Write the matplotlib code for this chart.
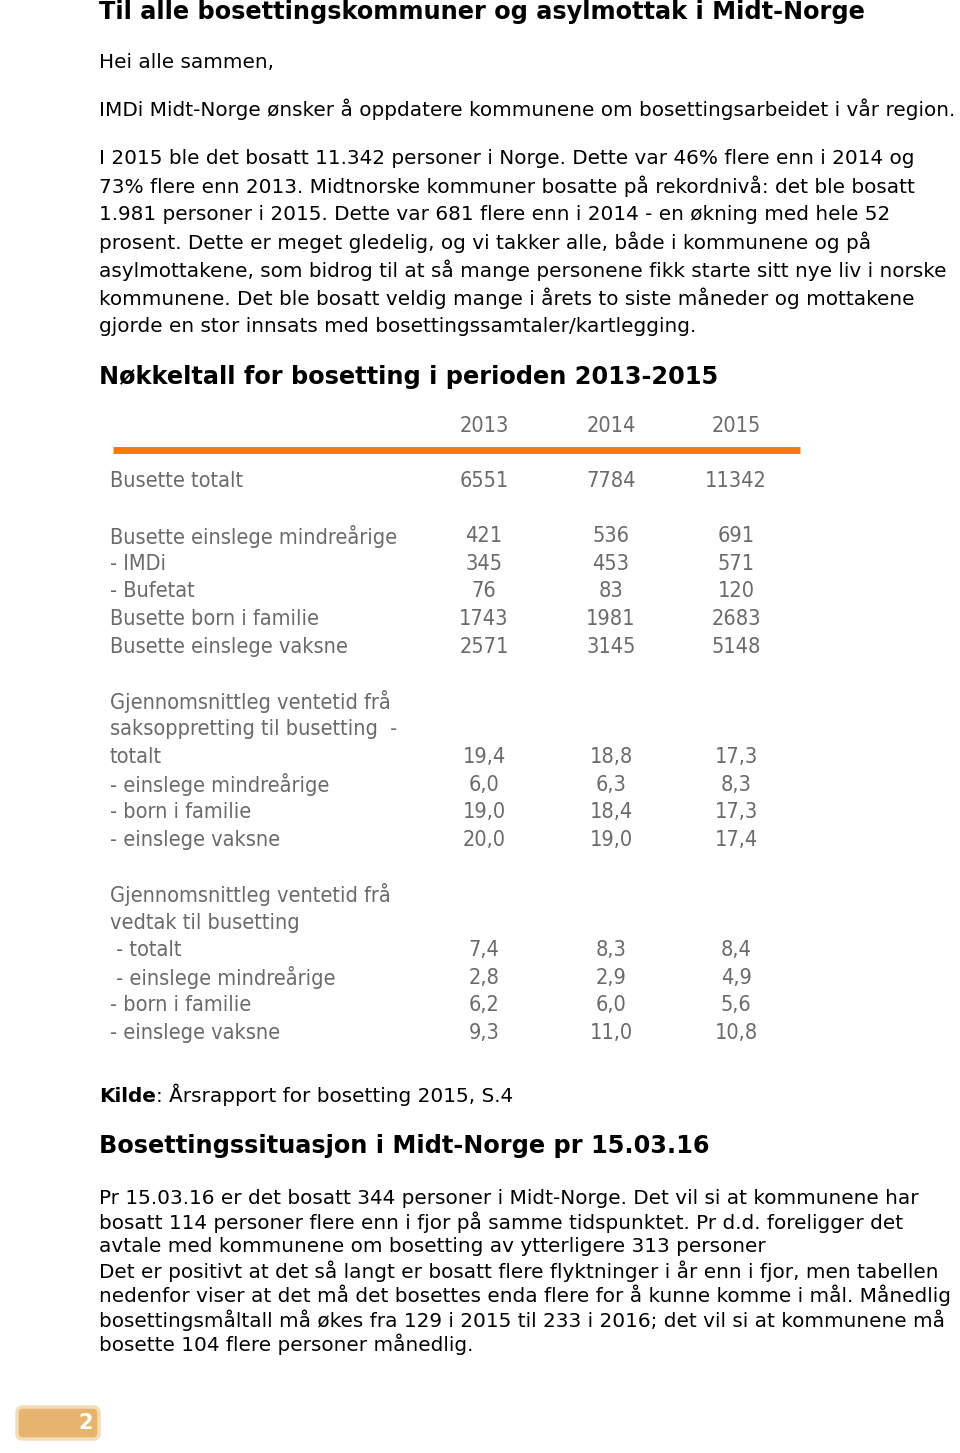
#!/usr/bin/env python3
"""Nyhetsbrev IMDi Midt-Norge: side 2 med nøkkeltall for bosetting."""

import matplotlib

matplotlib.use("Agg")
import matplotlib.pyplot as plt
from matplotlib.patches import FancyBboxPatch

# --- data -------------------------------------------------------------
years = ["2013", "2014", "2015"]

row_labels = [
    "Busette totalt",
    "",
    "Busette einslege mindreårige",
    "- IMDi",
    "- Bufetat",
    "Busette born i familie",
    "Busette einslege vaksne",
    "",
    "Gjennomsnittleg ventetid frå",
    "saksoppretting til busetting  -",
    "totalt",
    "- einslege mindreårige",
    "- born i familie",
    "- einslege vaksne",
    "",
    "Gjennomsnittleg ventetid frå",
    "vedtak til busetting",
    " - totalt",
    " - einslege mindreårige",
    "- born i familie",
    "- einslege vaksne",
]

values_2013 = ["6551", "", "421", "345", "76", "1743", "2571", "", "", "",
               "19,4", "6,0", "19,0", "20,0", "", "", "", "7,4", "2,8", "6,2", "9,3"]
values_2014 = ["7784", "", "536", "453", "83", "1981", "3145", "", "", "",
               "18,8", "6,3", "18,4", "19,0", "", "", "", "8,3", "2,9", "6,0", "11,0"]
values_2015 = ["11342", "", "691", "571", "120", "2683", "5148", "", "", "",
               "17,3", "8,3", "17,3", "17,4", "", "", "", "8,4", "4,9", "5,6", "10,8"]

title = "Til alle bosettingskommuner og asylmottak i Midt-Norge"
greeting = "Hei alle sammen,"
intro = "IMDi Midt-Norge ønsker å oppdatere kommunene om bosettingsarbeidet i vår region."
para1 = [
    "I 2015 ble det bosatt 11.342 personer i Norge. Dette var 46% flere enn i 2014 og",
    "73% flere enn 2013. Midtnorske kommuner bosatte på rekordnivå: det ble bosatt",
    "1.981 personer i 2015. Dette var 681 flere enn i 2014 - en økning med hele 52",
    "prosent. Dette er meget gledelig, og vi takker alle, både i kommunene og på",
    "asylmottakene, som bidrog til at så mange personene fikk starte sitt nye liv i norske",
    "kommunene. Det ble bosatt veldig mange i årets to siste måneder og mottakene",
    "gjorde en stor innsats med bosettingssamtaler/kartlegging.",
]
heading1 = "Nøkkeltall for bosetting i perioden 2013-2015"
heading2 = "Bosettingssituasjon i Midt-Norge pr 15.03.16"
source_label = "Kilde"
source_text = ": Årsrapport for bosetting 2015, S.4"
para2 = [
    "Pr 15.03.16 er det bosatt 344 personer i Midt-Norge. Det vil si at kommunene har",
    "bosatt 114 personer flere enn i fjor på samme tidspunktet. Pr d.d. foreligger det",
    "avtale med kommunene om bosetting av ytterligere 313 personer",
    "Det er positivt at det så langt er bosatt flere flyktninger i år enn i fjor, men tabellen",
    "nedenfor viser at det må det bosettes enda flere for å kunne komme i mål. Månedlig",
    "bosettingsmåltall må økes fra 129 i 2015 til 233 i 2016; det vil si at kommunene må",
    "bosette 104 flere personer månedlig.",
]
page_number = "2"

# --- figur ------------------------------------------------------------
W, H = 960, 1453
fig = plt.figure(figsize=(W / 100, H / 100), dpi=100)
ax = fig.add_axes([0, 0, 1, 1])
ax.set_xlim(0, W)
ax.set_ylim(H, 0)
ax.axis("off")

BODY = dict(fontsize=14.45, family="DejaVu Sans", color="black", va="center")
HEAD = dict(fontsize=17.3, family="DejaVu Sans", weight="bold", color="black", va="center")
TABLE = dict(fontsize=15.6, family="DejaVu Sans", stretch="condensed",
             color="#6a6a6a", va="center")
LEFT = 99

ax.text(LEFT, 12, title, **HEAD)
ax.text(LEFT, 62, greeting, **BODY)
ax.text(LEFT, 109, intro, **BODY)
for i, line in enumerate(para1):
    ax.text(LEFT, 158 + i * 28, line, **BODY)
ax.text(LEFT, 377, heading1, **HEAD)

# tabell
col_x = [484, 611, 736]
for x, year in zip(col_x, years):
    ax.text(x, 426, year, ha="center", **TABLE)
ax.plot([113, 800], [450, 450], color="#f07d0a", lw=5, solid_capstyle="butt")

row_step = 27.6
row_y = [481 + i * row_step for i in range(len(row_labels))]
for y, label, v13, v14, v15 in zip(row_y, row_labels, values_2013, values_2014, values_2015):
    if label:
        ax.text(110, y, label, ha="left", **TABLE)
    for x, v in zip(col_x, (v13, v14, v15)):
        if v:
            ax.text(x, y, v, ha="center", **TABLE)

# kilde: fet etikett etterfulgt av vanlig tekst på samme grunnlinje
kilde = ax.text(LEFT, 1102, source_label,
                **{**BODY, "weight": "bold", "va": "baseline"})
fig.canvas.draw()
ext = kilde.get_window_extent().transformed(ax.transData.inverted())
ax.text(ext.x1, 1102, source_text, **{**BODY, "va": "baseline"})

ax.text(LEFT, 1146, heading2, **HEAD)
for i, line in enumerate(para2):
    ax.text(LEFT, 1198 + i * 24.4, line, **BODY)

# sidetall
badge = FancyBboxPatch((17, 1407), 82, 32, boxstyle="round,pad=0,rounding_size=6",
                       facecolor="#e6b46e", edgecolor="#f3dcb8", lw=2.5)
ax.add_patch(badge)
ax.text(86, 1423, page_number, fontsize=15, weight="bold", color="white",
        ha="center", va="center", family="DejaVu Sans")

fig.savefig("out.png", dpi=100)
